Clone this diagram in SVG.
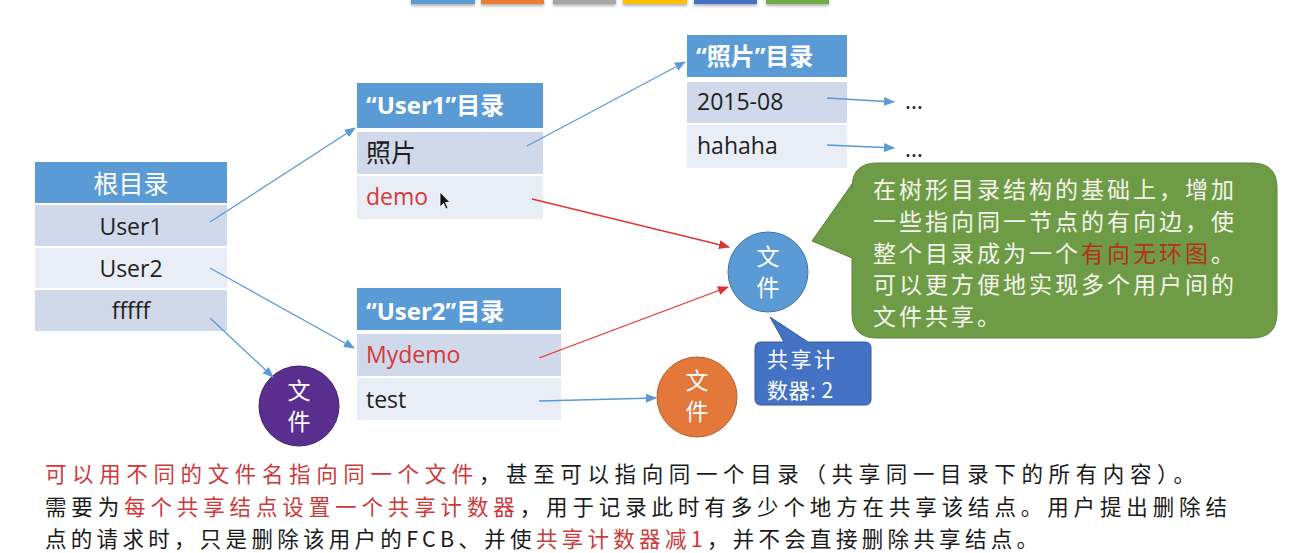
<svg xmlns="http://www.w3.org/2000/svg" width="1292" height="553" viewBox="0 0 1292 553">
<defs>
<style>
.hdr{fill:#5B9BD5}
.r1{fill:#CFD9EA}
.r2{fill:#E8EDF6}
.lat{font-family:"Open Sans","Noto Sans CJK SC",sans-serif;font-size:23px;fill:#1e1e1e}
.cjk{font-family:"Noto Sans CJK SC",sans-serif}
.ht{font-family:"Open Sans","Noto Sans CJK SC",sans-serif;font-size:24px;font-weight:bold;fill:#ffffff}
.red{fill:#D63838}
.wt{fill:#ffffff}
.bl{stroke:#5B9BD5;stroke-width:1.3;fill:none}
.rl{stroke:#E03434;stroke-width:1.3;fill:none}
.circ{font-family:"Noto Sans CJK SC",sans-serif;font-size:23px;fill:#ffffff;text-anchor:middle;writing-mode:vertical-rl;letter-spacing:8px}
.bt{font-family:"Noto Sans CJK SC",sans-serif;font-size:21.5px;fill:#1a1a1a}
.gt{font-family:"Noto Sans CJK SC",sans-serif;font-size:23px;fill:#F4F4EC;letter-spacing:3px}
</style>
<marker id="ab" markerWidth="11" markerHeight="9" refX="10" refY="4.5" orient="auto" markerUnits="userSpaceOnUse">
<path d="M0,0 L11,4.5 L0,9 Z" fill="#5B9BD5"/>
</marker>
<marker id="ar" markerWidth="11" markerHeight="9" refX="10" refY="4.5" orient="auto" markerUnits="userSpaceOnUse">
<path d="M0,0 L11,4.5 L0,9 Z" fill="#E03434"/>
</marker>
<filter id="sh" x="-10%" y="-50%" width="120%" height="300%">
<feDropShadow dx="0" dy="2" stdDeviation="1.5" flood-color="#000" flood-opacity="0.3"/>
</filter>
</defs>
<rect width="1292" height="553" fill="#ffffff"/>

<g id="topbars" filter="url(#sh)">
<rect x="411" y="-2" width="64" height="6" fill="#5B9BD5"/>
<rect x="481" y="-2" width="63" height="6" fill="#ED7D31"/>
<rect x="553" y="-2" width="63" height="6" fill="#A5A5A5"/>
<rect x="623" y="-2" width="64" height="6" fill="#FFC000"/>
<rect x="694" y="-2" width="63" height="6" fill="#4472C4"/>
<rect x="766" y="-2" width="63" height="6" fill="#70AD47"/>
</g>

<g id="root">
<rect class="hdr" x="35" y="162" width="192" height="41"/>
<rect class="r1" x="35" y="205" width="192" height="41"/>
<rect class="r2" x="35" y="248" width="192" height="40"/>
<rect class="r1" x="35" y="290" width="192" height="41"/>
<text x="131" y="182" class="cjk wt" font-size="25" text-anchor="middle" dominant-baseline="central">根目录</text>
<text x="131" y="226" class="lat" text-anchor="middle" dominant-baseline="central">User1</text>
<text x="131" y="268" class="lat" text-anchor="middle" dominant-baseline="central">User2</text>
<text x="131" y="310" class="lat" text-anchor="middle" dominant-baseline="central">fffff</text>
</g>

<g id="user1">
<rect class="hdr" x="357" y="83" width="186" height="45"/>
<rect class="r1" x="357" y="132" width="186" height="42"/>
<rect class="r2" x="357" y="176" width="186" height="43"/>
<text x="366" y="104" class="ht" dominant-baseline="central">“User1”目录</text>
<text x="366" y="151" class="cjk" font-size="25" fill="#1e1e1e" dominant-baseline="central">照片</text>
<text x="366" y="196" class="lat red" dominant-baseline="central">demo</text>
<path d="M440,192 L440,207 L443.5,203.5 L446,209 L448,208 L445.5,202.5 L450,202.5 Z" fill="#111" stroke="#fff" stroke-width="0.8"/>
</g>

<g id="photos">
<rect class="hdr" x="687" y="35" width="160" height="42"/>
<rect class="r1" x="687" y="82" width="160" height="41"/>
<rect class="r2" x="687" y="125" width="160" height="43"/>
<text x="696" y="55" class="ht" font-size="26" dominant-baseline="central">“照片”目录</text>
<text x="697" y="101" class="lat" dominant-baseline="central">2015-08</text>
<text x="697" y="145" class="lat" dominant-baseline="central">hahaha</text>
<text x="905" y="100" class="lat" font-size="18" dominant-baseline="central">…</text>
<text x="905" y="148" class="lat" font-size="18" dominant-baseline="central">…</text>
</g>

<g id="user2">
<rect class="hdr" x="357" y="288" width="204" height="42"/>
<rect class="r1" x="357" y="334" width="204" height="42"/>
<rect class="r2" x="357" y="378" width="204" height="42"/>
<text x="366" y="310" class="ht" dominant-baseline="central">“User2”目录</text>
<text x="366" y="354" class="lat red" dominant-baseline="central">Mydemo</text>
<text x="366" y="399" class="lat" dominant-baseline="central">test</text>
</g>

<g id="file-purple">
<circle cx="299" cy="406" r="40" fill="#5A2E8F" stroke="#43206E" stroke-width="1"/>
<text x="299" y="410" class="circ">文件</text>
</g>

<g id="file-orange">
<circle cx="697" cy="397" r="40" fill="#E3783A" stroke="#B65E2C" stroke-width="1"/>
<text x="697" y="400" class="circ">文件</text>
</g>

<g id="file-blue">
<circle cx="768" cy="272" r="40" fill="#5B9BD5" stroke="#41719C" stroke-width="1"/>
<text x="768" y="276" class="circ">文件</text>
</g>

<g id="counter">
<path d="M761,342 L784,342 L770,317 L808,342 L865,342 Q871,342 871,348 L871,399 Q871,405 865,405 L761,405 Q755,405 755,399 L755,348 Q755,342 761,342 Z" fill="#4472C4" stroke="#36599A" stroke-width="1"/>
<text x="767" y="358" class="cjk wt" font-size="21" letter-spacing="2.5" dominant-baseline="central">共享计</text>
<text x="767" y="389" class="cjk wt" font-size="21" letter-spacing="0.5" dominant-baseline="central">数器: 2</text>
</g>

<g id="note">
<path d="M877,163 L1252,163 Q1277,163 1277,188 L1277,313 Q1277,338 1252,338 L877,338 Q852,338 852,313 L852,258 L812,241 L852,184 L852,188 Q852,163 877,163 Z" fill="#6E9C46" stroke="#5A8438" stroke-width="1"/>
<text x="873" y="188" class="gt" dominant-baseline="central">在树形目录结构的基础上，增加</text>
<text x="873" y="220" class="gt" dominant-baseline="central">一些指向同一节点的有向边，使</text>
<text x="873" y="252" class="gt" dominant-baseline="central">整个目录成为一个<tspan fill="#B8301E">有向无环图</tspan>。</text>
<text x="873" y="283" class="gt" dominant-baseline="central">可以更方便地实现多个用户间的</text>
<text x="873" y="315" class="gt" dominant-baseline="central">文件共享。</text>
</g>

<g id="connectors">
<line class="bl" x1="210" y1="222" x2="355" y2="128" marker-end="url(#ab)"/>
<line class="bl" x1="210" y1="268" x2="354" y2="348" marker-end="url(#ab)"/>
<line class="bl" x1="210" y1="318" x2="273" y2="377" marker-end="url(#ab)"/>
<line class="bl" x1="527" y1="146" x2="685" y2="62" marker-end="url(#ab)"/>
<line class="bl" x1="827" y1="98" x2="894" y2="102" marker-end="url(#ab)"/>
<line class="bl" x1="827" y1="145" x2="894" y2="148" marker-end="url(#ab)"/>
<line class="bl" x1="539" y1="401" x2="656" y2="398" marker-end="url(#ab)"/>
<line class="rl" x1="532" y1="199" x2="729" y2="247" marker-end="url(#ar)"/>
<line class="rl" x1="539" y1="358" x2="728" y2="287" marker-end="url(#ar)"/>
</g>

<g id="caption">
<text x="45" y="472" class="bt" dominant-baseline="central" textLength="1150" lengthAdjust="spacing"><tspan fill="#CC3A3C">可以用不同的文件名指向同一个文件</tspan>，甚至可以指向同一个目录（共享同一目录下的所有内容）。</text>
<text x="45" y="505" class="bt" dominant-baseline="central" textLength="1182" lengthAdjust="spacing">需要为<tspan fill="#CC3A3C">每个共享结点设置一个共享计数器</tspan>，用于记录此时有多少个地方在共享该结点。用户提出删除结</text>
<text x="45" y="537" class="bt" dominant-baseline="central" textLength="993" lengthAdjust="spacing">点的请求时，只是删除该用户的FCB、并使<tspan fill="#CC3A3C">共享计数器减1</tspan>，并不会直接删除共享结点。</text>
</g>
</svg>
